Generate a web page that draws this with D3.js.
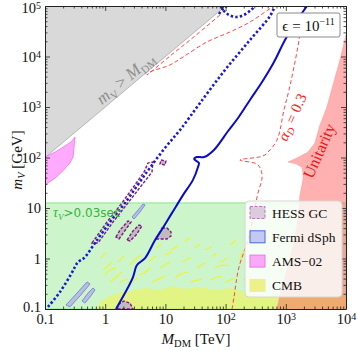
<!DOCTYPE html>
<html>
<head>
<meta charset="utf-8">
<script src="https://cdn.jsdelivr.net/npm/d3@7"></script>
<style>
body { margin: 0; background: #fff; overflow: hidden; }
svg { font-family: "Liberation Serif", "DejaVu Serif", serif; }
</style>
</head>
<body>
<svg id="chart" width="357" height="351"></svg>
<script>
'use strict';

// values: M_DM in TeV, m_V in GeV
var xTicks = [0.1, 1, 10, 100, 1000, 10000];
var yTicks = [0.1, 1, 10, 100, 1000, 10000, 100000];
var legendLabels = ['HESS GC', 'Fermi dSph', 'AMS\u221202', 'CMB'];

var kinematic = [[0.1, 100], [100, 1e5], [0.1, 1e5]];
var lifetimeTop = 12.6;

var unitarity = [[1e4, 26700], [7940, 8530], [6080, 2730], [4830, 1000], [3700, 440], [3050, 194],
	[2340, 128], [1800, 108], [1475, 96], [1090, 81], [1475, 75], [1860, 64], [1950, 45], [1930, 36],
	[1720, 18], [1600, 5.8], [1320, 1.85], [1050, 0.59], [830, 0.24], [715, 0.1], [1e4, 0.1]];

var amsRegion = [[0.1, 102], [0.147, 128], [0.215, 169], [0.281, 212], [0.315, 255], [0.303, 154],
	[0.292, 102], [0.26, 78], [0.191, 52], [0.147, 39], [0.1, 28.5]];

var cmbBand = [[0.731, 0.1], [0.82, 0.138], [1.11, 0.173], [1.63, 0.207], [2.58, 0.227], [4.58, 0.261],
	[8.13, 0.238], [12.9, 0.285], [21.2, 0.249], [37.6, 0.273], [66.7, 0.238], [118, 0.261], [210, 0.217],
	[372, 0.189], [802, 0.181], [1720, 0.189], [3700, 0.181], [1e4, 0.181], [1e4, 0.1]];

var cmbBits = [
	[[0.82, 1.02], [0.9, 1.1], [1.03, 1.29]], [[0.92, 0.59], [1.1, 0.7], [1.30, 0.85]],
	[[1.20, 0.34], [1.5, 0.42], [1.90, 0.54]], [[1.63, 0.85], [2.05, 1.12]],
	[[3.79, 0.47], [4.5, 0.53], [5.55, 0.65]], [[5.14, 0.85], [6.98, 1.12]],
	[[5.98, 0.34], [7.6, 0.39], [9.84, 0.45]], [[8.13, 0.65], [11.9, 0.85]], [[11.9, 1.47], [16.2, 1.77]],
	[[14.4, 0.41], [18, 0.49], [23.7, 0.54]], [[18.9, 0.85], [25.6, 1.02]], [[25.6, 0.34], [40.5, 0.39]],
	[[33.5, 0.65], [45.5, 0.82]], [[45.5, 1.47], [59.4, 1.69]], [[55.1, 0.375], [70, 0.42], [87.1, 0.45]],
	[[80.7, 0.85], [110, 1.02]], [[97.7, 0.34], [143, 0.41]], [[118, 1.85], [149, 2.32]],
	[[173, 0.85], [185, 1.2], [202, 1.47]], [[195, 0.375], [254, 0.45]], [[21.2, 2.22], [25.6, 2.55]],
	[[2.39, 0.33], [3.51, 0.41]], [[7, 1.6], [8.5, 1.9]], [[60, 1.1], [70, 1.25]],
	[[0.99, 0.47], [1.2, 0.59], [1.51, 0.65]], [[2.58, 0.743], [3.37, 1.02], [4.08, 1.17]],
	[[9.84, 1.17], [12.9, 1.35]], [[31, 1.61], [37.6, 1.94]], [[66.7, 0.65], [87.1, 0.74], [118, 0.71]],
	[[1.76, 0.343], [2.39, 0.393]], [[210, 0.59], [235, 0.853]]];

var hessRegions = [
	[[0.604, 2.03], [1.07, 5.28], [1.90, 12.6], [4.42, 51.6], [5.14, 77.8], [6.22, 81.5], [5.98, 51.6],
		[2.39, 12.6], [1.35, 5.28], [0.759, 2.03]],
	[[1.51, 2.67], [1.76, 3.66], [2.39, 5.53], [2.69, 5.28], [2.05, 3.35], [1.69, 2.43]],
	[[2.30, 2.32], [2.90, 3.51], [3.64, 4.6], [4.08, 4.4], [3.25, 2.92], [2.58, 2.22]],
	[[8.79, 4.02], [10.6, 4.02], [12.4, 3.35], [12.4, 2.79], [10.6, 2.43], [6.98, 2.43]],
	[[1.57, 0.1], [1.69, 0.126], [2.05, 0.144], [2.58, 0.131], [2.9, 0.1]],
	[[8.45, 89], [10.2, 85], [9.84, 71], [8.13, 74.3]]];

var fermiRegions = [
	[[0.223, 0.12], [0.353, 0.217], [0.499, 0.343], [0.56, 0.313], [0.381, 0.181], [0.26, 0.11]],
	[[0.412, 0.144], [0.518, 0.207], [0.627, 0.261], [0.678, 0.238], [0.56, 0.173], [0.461, 0.131]],
	[[2.79, 6.64], [3.51, 9.12], [4.25, 12], [4.59, 11.5], [3.79, 8.33], [3.01, 6.05]]];

var solidLimit = [[1.51, 0.1], [2.13, 0.207], [2.9, 0.43], [3.25, 0.68], [3.5, 0.78], [4.6, 1.02],
	[6.7, 2.3], [8.8, 3.8], [12.9, 8], [19.6, 18], [28.7, 36], [34.8, 65], [36, 78], [30, 93],
	[33.5, 102], [44, 102], [64, 141], [110, 335], [161, 605], [254, 1380], [403, 3130], [637, 7780],
	[970, 21200], [1476, 48200], [2250, 1e5]];

var dottedLimit = [[0.112, 0.11], [0.177, 0.217], [0.26, 0.45], [0.315, 0.68], [0.353, 0.853],
	[0.445, 1.02], [0.678, 2.03], [1.2, 5.3], [2.13, 12.6], [4.94, 52], [9.8, 154], [17.5, 351],
	[37.6, 1200], [97.7, 5400], [254, 21200], [547, 63400], [637, 91200]];
var dottedHook = [[84, 98000], [94, 79600], [114, 66400], [149, 60600], [202, 66400], [264, 83400], [308, 1e5]];
var dottedBlob = [[77.6, 69500], [90.6, 87300], [105, 1e5]];

var alphaUpper = [[80.7, 66400], [31, 25500], [11.9, 10200], [4.94, 4300], [5.55, 4930], [11.9, 6790],
	[19.6, 9770], [49, 19400], [118, 30600], [254, 48200], [506, 83400], [637, 1e5]];
var alphaMain = [[1860, 66400], [1656, 21200], [1367, 6190], [1130, 2170], [933, 873], [714, 222],
	[506, 128], [418, 107], [173, 89], [333, 74], [387, 56.5], [403, 39.3], [345, 19.8], [308, 10.5],
	[245, 2.67], [202, 1.35], [167, 0.68], [149, 0.33], [138, 0.173], [128, 0.1]];

var W = 357, H = 351;
var margin = {left: 45, right: 11, top: 6, bottom: 42};

var svg = d3.select('#chart');

var x = d3.scaleLog().domain([0.1, 1e4]).range([margin.left, W - margin.right]);
var y = d3.scaleLog().domain([0.1, 1e5]).range([H - margin.bottom, margin.top]);

var line = d3.line().x(function (d) { return x(d[0]); }).y(function (d) { return y(d[1]); });
var smooth = d3.line().curve(d3.curveCatmullRom.alpha(0.5))
	.x(function (d) { return x(d[0]); }).y(function (d) { return y(d[1]); });

svg.append('defs').append('clipPath').attr('id', 'plot-clip')
	.append('rect')
	.attr('x', x(0.1)).attr('y', y(1e5))
	.attr('width', x(1e4) - x(0.1)).attr('height', y(0.1) - y(1e5));

var plot = svg.append('g').attr('clip-path', 'url(#plot-clip)');

// lifetime region
plot.append('rect')
	.attr('x', x(0.1)).attr('y', y(lifetimeTop))
	.attr('width', x(1e4) - x(0.1)).attr('height', y(0.1) - y(lifetimeTop))
	.style('fill', '#cdf5cb').style('stroke', '#8ee58a').style('stroke-width', 1);

// CMB
plot.append('path').attr('d', line(cmbBand) + 'Z')
	.style('fill', '#f2f24a').style('fill-opacity', 0.55).style('stroke', 'none');
plot.selectAll('.cmb-bit').data(cmbBits).enter().append('path')
	.attr('d', function (d) { return smooth(d); })
	.style('fill', 'none').style('stroke', '#eef23a').style('stroke-width', 1.2);

// kinematically forbidden
plot.append('path').attr('d', line(kinematic) + 'Z')
	.style('fill', '#d9d9d9').style('stroke', 'none');
plot.append('path').attr('d', line(kinematic.slice(0, 2)))
	.style('fill', 'none').style('stroke', '#a8a8a8').style('stroke-width', 0.8);

plot.append('path').attr('d', line(amsRegion) + 'Z')
	.style('fill', '#ffaaff').style('stroke', '#f070f0').style('stroke-width', 0.8);

plot.selectAll('.fermi').data(fermiRegions).enter().append('path')
	.attr('d', function (d) { return line(d) + 'Z'; })
	.style('fill', '#b9bfdc').style('stroke', '#6878e0').style('stroke-width', 0.8);

plot.selectAll('.hess').data(hessRegions).enter().append('path')
	.attr('d', function (d) { return line(d) + 'Z'; })
	.style('fill', function (d, i) { return i === 0 ? 'none' : '#bdbdbd'; })
	.style('stroke', '#86168a').style('stroke-width', 1.4).style('stroke-dasharray', '3,1.6');

plot.append('path').attr('d', line(unitarity) + 'Z')
	.style('fill', '#ff5a5a').style('fill-opacity', 0.48).style('stroke', '#ff9a9a').style('stroke-width', 0.6);

[alphaUpper, alphaMain].forEach(function (c) {
	plot.append('path').attr('d', smooth(c))
		.style('fill', 'none').style('stroke', '#ff3030').style('stroke-width', 0.9)
		.style('stroke-dasharray', '4,2.6');
});

[dottedLimit, dottedHook, dottedBlob].forEach(function (c) {
	plot.append('path').attr('d', smooth(c))
		.style('fill', 'none').style('stroke', '#1a1ad0').style('stroke-width', 2.6)
		.style('stroke-dasharray', '2.4,2.2');
});

plot.append('path').attr('d', smooth(solidLimit))
	.style('fill', 'none').style('stroke', '#0a0acc').style('stroke-width', 2);

// region labels
var edgeAngle = Math.atan2(y(1e5) - y(100), x(100) - x(0.1)) * 180 / Math.PI;
var gt = svg.append('text')
	.attr('transform', 'translate(' + x(2.13) + ',' + y(3750) + ') rotate(' + edgeAngle + ')')
	.attr('text-anchor', 'middle').attr('dy', '0.35em')
	.style('font-size', '17px').style('fill', '#8e8e8e');
gt.append('tspan').style('font-style', 'italic').text('m');
gt.append('tspan').attr('dy', 4).style('font-size', '11px').text('V');
gt.append('tspan').attr('dy', -4).text(' > ');
gt.append('tspan').style('font-style', 'italic').text('M');
gt.append('tspan').attr('dy', 4).style('font-size', '11px').text('DM');

svg.append('text')
	.attr('transform', 'translate(' + x(3565) + ',' + y(135) + ') rotate(-66)')
	.attr('text-anchor', 'middle').attr('dy', '0.35em')
	.style('font-size', '16px').style('fill', '#f01010')
	.text('Unitarity');

var at = svg.append('text')
	.attr('transform', 'translate(' + x(1268) + ',' + y(634) + ') rotate(-66)')
	.attr('text-anchor', 'middle').attr('dy', '0.35em')
	.style('font-size', '15px').style('fill', '#ff2020');
at.append('tspan').style('font-style', 'italic').text('\u03b1');
at.append('tspan').attr('dy', 3).style('font-size', '10px').style('font-style', 'italic').text('D');
at.append('tspan').attr('dy', -3).text(' = 0.3');

var tt = svg.append('text').attr('x', 53).attr('y', 217).style('fill', '#3cb043');
tt.append('tspan').style('font-style', 'italic').style('font-size', '14px').text('\u03c4');
tt.append('tspan').attr('dy', 3).style('font-style', 'italic').style('font-size', '9px').text('V');
tt.append('tspan').attr('dy', -3).style('font-family', '"DejaVu Sans", sans-serif').style('font-size', '12px')
	.text('>0.03sec');

// axes
function minorTicks(domain) {
	var out = [];
	var lo = Math.round(Math.log10(domain[0])), hi = Math.round(Math.log10(domain[1]));
	for (var e = lo; e < hi; e++) {
		for (var k = 2; k < 10; k++) {
			out.push(k * Math.pow(10, e));
		}
	}
	return out;
}

function labelTicks(g) {
	g.selectAll('.tick text').each(function (d) {
		var t = d3.select(this), e = Math.round(Math.log10(d));
		t.text(null);
		if (e >= 2) {
			t.append('tspan').text('10');
			t.append('tspan').attr('dy', '-0.38em').style('font-size', '10px').text(e);
		} else {
			t.text(String(d));
		}
	});
}

function drawAxis(maker, scale, major, transform, labelled) {
	var gMinor = svg.append('g').attr('transform', transform)
		.call(maker(scale).tickValues(minorTicks(scale.domain())).tickSize(-2.5).tickSizeOuter(0).tickFormat(''));
	gMinor.select('.domain').remove();
	var g = svg.append('g').attr('transform', transform)
		.call(maker(scale).tickValues(major).tickSize(-5).tickSizeOuter(0).tickPadding(labelled ? 5 : 0));
	g.attr('font-family', null).attr('font-size', null);
	g.selectAll('.tick text').style('font-size', '14.5px').style('fill', '#111');
	if (labelled) {
		labelTicks(g);
	} else {
		g.selectAll('.tick text').remove();
	}
	svg.selectAll('.tick line').style('stroke', '#222').style('stroke-width', 0.8);
	g.select('.domain').style('stroke', '#222').style('stroke-width', 1);
	return g;
}

drawAxis(d3.axisBottom, x, xTicks, 'translate(0,' + y(0.1) + ')', true);
drawAxis(d3.axisTop, x, xTicks, 'translate(0,' + y(1e5) + ')', false);
var gy = drawAxis(d3.axisLeft, y, yTicks, 'translate(' + x(0.1) + ',0)', true);
gy.selectAll('.tick text').attr('x', -4);
gy.selectAll('.tick').filter(function (d) { return d === 1e5; }).select('text').attr('dy', '0.45em');
gy.selectAll('.tick').filter(function (d) { return d === 0.1; }).select('text').attr('dy', '0.2em');
drawAxis(d3.axisRight, y, yTicks, 'translate(' + x(1e4) + ',0)', false);

var xl = svg.append('text').attr('x', 196).attr('y', 344).attr('text-anchor', 'middle')
	.style('font-size', '15px').style('fill', '#111');
xl.append('tspan').style('font-style', 'italic').text('M');
xl.append('tspan').attr('dy', 3).style('font-size', '10.5px').text('DM');
xl.append('tspan').attr('dy', -3).text(' [TeV]');

var yl = svg.append('text').attr('transform', 'translate(22,160) rotate(-90)').attr('text-anchor', 'middle')
	.style('font-size', '15px').style('fill', '#111');
yl.append('tspan').style('font-style', 'italic').text('m');
yl.append('tspan').attr('dy', 3).style('font-size', '10.5px').style('font-style', 'italic').text('V');
yl.append('tspan').attr('dy', -3).text(' [GeV]');

// epsilon box
svg.append('rect').attr('x', 277).attr('y', 13).attr('width', 63).attr('height', 24).attr('rx', 2)
	.style('fill', '#fff').style('stroke', '#8a8a8a').style('stroke-width', 1);
var et = svg.append('text').attr('x', 308.5).attr('y', 31).attr('text-anchor', 'middle')
	.style('font-size', '15px').style('fill', '#111');
et.append('tspan').text('\u03f5 = 10');
et.append('tspan').attr('dy', -6).style('font-size', '10px').text('\u221211');

// legend
var swatches = [
	{fill: '#dccbdc', stroke: '#b27ab8', dash: '3,1.6'},
	{fill: '#c3c9f3', stroke: '#5266e0', dash: null},
	{fill: '#f9a9f7', stroke: '#ea78ea', dash: null},
	{fill: '#eef08a', stroke: '#eef08a', dash: null}];

svg.append('rect').attr('x', 245).attr('y', 201).attr('width', 97).attr('height', 96).attr('rx', 4)
	.style('fill', '#fff').style('fill-opacity', 0.8).style('stroke', '#d6d6d6').style('stroke-width', 1);

var items = svg.selectAll('.legend-item').data(legendLabels).enter().append('g')
	.attr('transform', function (d, i) { return 'translate(250,' + (212.5 + i * 24.3) + ')'; });
items.append('rect').attr('x', 0).attr('y', -6).attr('width', 15).attr('height', 12)
	.style('fill', function (d, i) { return swatches[i].fill; })
	.style('stroke', function (d, i) { return swatches[i].stroke; })
	.style('stroke-width', 1)
	.style('stroke-dasharray', function (d, i) { return swatches[i].dash; });
items.append('text').attr('x', 22).attr('y', 5)
	.style('font-size', '13.5px').style('fill', '#111')
	.text(function (d) { return d; });
</script>
</body>
</html>
